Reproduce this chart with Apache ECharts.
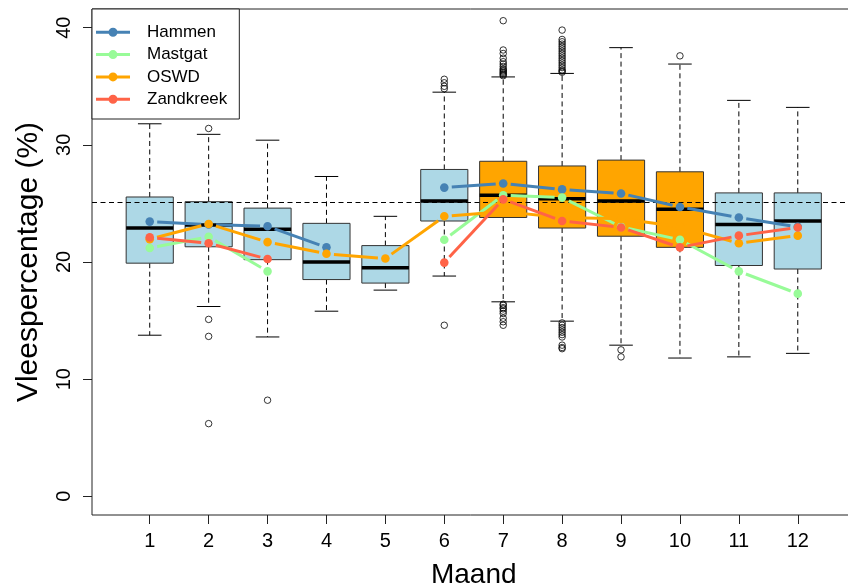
<!DOCTYPE html>
<html>
<head>
<meta charset="utf-8">
<script src="https://cdn.jsdelivr.net/npm/echarts@6/dist/echarts.min.js"></script>
<style>
  html, body { margin: 0; padding: 0; background: #fff; }
  #chart { width: 848px; height: 586px; }
</style>
</head>
<body>
<div id="chart"></div>
<script>
// months on the x axis
const months = [1, 2, 3, 4, 5, 6, 7, 8, 9, 10, 11, 12];
const yTicks = [0, 10, 20, 30, 40];

// boxplot statistics per month
const boxMin    = [13.75, 16.2, 13.6, 15.8, 17.6, 18.8, 16.6, 14.95, 12.9, 11.8, 11.9, 12.2];
const boxQ1     = [19.9, 21.3, 20.2, 18.5, 18.2, 23.5, 23.8, 22.9, 22.2, 21.25, 19.7, 19.4];
const boxMedian = [22.9, 23.15, 22.8, 20.0, 19.5, 25.2, 25.7, 25.4, 25.2, 24.5, 23.2, 23.5];
const boxQ3     = [25.55, 25.15, 24.6, 23.3, 21.4, 27.9, 28.6, 28.2, 28.7, 27.7, 25.9, 25.9];
const boxMax    = [31.8, 30.9, 30.4, 27.3, 23.9, 34.5, 35.8, 36.1, 38.3, 36.9, 33.8, 33.2];

// outliers: [month, value]
const outliers = [
  [2, 31.4], [2, 15.1], [2, 13.65], [2, 6.2],
  [3, 8.2],
  [6, 14.6], [6, 34.8], [6, 35.0], [6, 35.3], [6, 35.6],
  [7, 35.9], [7, 36.0], [7, 36.1], [7, 36.2], [7, 36.3], [7, 36.4], [7, 36.5], [7, 36.7],
  [7, 36.9], [7, 37.1], [7, 37.4], [7, 37.8], [7, 38.1], [7, 40.6],
  [7, 16.4], [7, 16.3], [7, 16.1], [7, 16.0], [7, 15.8], [7, 15.6], [7, 15.2], [7, 14.9], [7, 14.6],
  [8, 36.2], [8, 36.3], [8, 36.4], [8, 36.6], [8, 36.8], [8, 37.0], [8, 37.2], [8, 37.4], [8, 37.6],
  [8, 37.8], [8, 38.0], [8, 38.2], [8, 38.4], [8, 38.6], [8, 38.8], [8, 39.0], [8, 39.8],
  [8, 14.8], [8, 14.6], [8, 14.4], [8, 14.2], [8, 14.0], [8, 13.8], [8, 13.6], [8, 12.9], [8, 12.7], [8, 12.6],
  [9, 12.5], [9, 11.9],
  [10, 37.6]
];

// mean per location (null = no data)
const hammen    = [23.45, 23.2, 23.05, 21.25, null, 26.35, 26.7, 26.2, 25.85, 24.7, 23.8, 23.0];
const mastgat   = [21.2, 22.15, 19.2, null, null, 21.9, 25.7, 25.5, 23.0, 21.9, 19.2, 17.3];
const oswd      = [21.95, 23.25, 21.7, 20.7, 20.3, 23.9, 24.3, 23.8, 23.7, 23.0, 21.6, 22.25];
const zandkreek = [22.1, 21.6, 20.25, null, null, 19.95, 25.35, 23.5, 22.95, 21.25, 22.25, 22.95];

const referenceLine = 25.1;

// styling
const FONT = 'Liberation Sans, Arial, sans-serif';
const orangeMonths = [7, 8, 9, 10];
const BOX_HALF = 0.4;
const STAPLE_HALF = 0.2;
const POINT_R = 4.3;
const GAP = 7.5;
const legendIcon = 'path://M0,3H34V6H0Z M21.5,4.5A4.5,4.5,0,1,1,12.5,4.5A4.5,4.5,0,1,1,21.5,4.5Z';

const chart = echarts.init(document.getElementById('chart'));

function renderBox(params, api) {
  const m = api.value(0);
  const fill = orangeMonths.includes(m) ? '#FFA500' : '#ADD8E6';
  const pMin = api.coord([m, api.value(1)]);
  const pQ1 = api.coord([m, api.value(2)]);
  const pQ3 = api.coord([m, api.value(4)]);
  const pMax = api.coord([m, api.value(5)]);
  const tl = api.coord([m - BOX_HALF, api.value(4)]);
  const br = api.coord([m + BOX_HALF, api.value(2)]);
  const medL = api.coord([m - BOX_HALF, api.value(3)]);
  const medR = api.coord([m + BOX_HALF, api.value(3)]);
  const capL = api.coord([m - STAPLE_HALF, 0])[0];
  const capR = api.coord([m + STAPLE_HALF, 0])[0];
  const dashed = { stroke: '#000', lineWidth: 1, lineDash: [5, 3.5] };
  const solid = { stroke: '#000', lineWidth: 1 };
  return {
    type: 'group',
    children: [
      { type: 'line', shape: { x1: pQ3[0], y1: pQ3[1], x2: pMax[0], y2: pMax[1] }, style: dashed },
      { type: 'line', shape: { x1: pQ1[0], y1: pQ1[1], x2: pMin[0], y2: pMin[1] }, style: dashed },
      { type: 'line', shape: { x1: capL, y1: pMax[1], x2: capR, y2: pMax[1] }, style: solid },
      { type: 'line', shape: { x1: capL, y1: pMin[1], x2: capR, y2: pMin[1] }, style: solid },
      { type: 'rect', shape: { x: tl[0], y: tl[1], width: br[0] - tl[0], height: br[1] - tl[1] },
        style: { fill: fill, stroke: '#333', lineWidth: 1 } },
      { type: 'line', shape: { x1: medL[0], y1: medL[1], x2: medR[0], y2: medR[1] },
        style: { stroke: '#000', lineWidth: 3.5 } }
    ]
  };
}

function renderPoint(params, api) {
  const color = api.visual('color');
  const p = api.coord([api.value(0), api.value(1)]);
  const children = [];
  const pm = api.value(2), pv = api.value(3);
  if (!isNaN(pm) && !isNaN(pv)) {
    const q = api.coord([pm, pv]);
    const dx = p[0] - q[0], dy = p[1] - q[1];
    const len = Math.sqrt(dx * dx + dy * dy);
    const ux = dx / len, uy = dy / len;
    children.push({
      type: 'line',
      shape: { x1: q[0] + ux * GAP, y1: q[1] + uy * GAP, x2: p[0] - ux * GAP, y2: p[1] - uy * GAP },
      style: { stroke: color, lineWidth: 3 }
    });
  }
  children.push({ type: 'circle', shape: { cx: p[0], cy: p[1], r: POINT_R }, style: { fill: color } });
  return { type: 'group', children: children };
}

function groupData(values) {
  const out = [];
  values.forEach((v, i) => {
    if (v == null) return;
    const hasPrev = i > 0 && values[i - 1] != null;
    out.push([months[i], v, hasPrev ? months[i - 1] : NaN, hasPrev ? values[i - 1] : NaN]);
  });
  return out;
}

function groupSeries(name, values, color) {
  return {
    name: name,
    type: 'custom',
    renderItem: renderPoint,
    itemStyle: { color: color },
    encode: { x: 0, y: 1 },
    data: groupData(values),
    z: 6,
    silent: true
  };
}

const boxData = months.map((m, i) => [m, boxMin[i], boxQ1[i], boxMedian[i], boxQ3[i], boxMax[i]]);

const option = {
  animation: false,
  textStyle: { fontFamily: FONT },
  grid: {
    left: 92, top: 9, width: 763.5, height: 506,
    outerBoundsMode: 'none',
    containLabel: false,
    show: true, borderColor: '#222', borderWidth: 1, backgroundColor: 'transparent'
  },
  legend: {
    orient: 'vertical',
    left: 92, top: 9,
    padding: [14.3, 12, 10.8, 4],
    itemGap: 4.3,
    itemWidth: 34, itemHeight: 9,
    selectedMode: false,
    backgroundColor: '#fff',
    borderColor: '#222', borderWidth: 1, borderRadius: 0,
    textStyle: { fontSize: 17, fontFamily: FONT, color: '#000', lineHeight: 18, padding: [0, 0, 0, 12] },
    data: ['Hammen', 'Mastgat', 'OSWD', 'Zandkreek'].map(n => ({ name: n, icon: legendIcon }))
  },
  xAxis: {
    type: 'value',
    min: 0.02, max: 12.98,
    name: 'Maand', nameLocation: 'middle', nameGap: 46,
    nameTextStyle: { fontSize: 28, fontFamily: FONT, color: '#000' },
    axisLine: { show: false, onZero: false },
    axisTick: { show: true, length: 9, customValues: months, lineStyle: { color: '#222' } },
    axisLabel: { customValues: months, fontSize: 20, color: '#000', margin: 16, fontFamily: FONT },
    splitLine: { show: false }
  },
  yAxis: {
    type: 'value',
    min: -1.6, max: 41.6,
    name: 'Vleespercentage (%)', nameLocation: 'middle', nameGap: 48, nameRotate: 90,
    nameTextStyle: { fontSize: 30, fontFamily: FONT, color: '#000' },
    axisLine: { show: false, onZero: false },
    axisTick: { show: true, length: 9, customValues: yTicks, lineStyle: { color: '#222' } },
    axisLabel: { customValues: yTicks, fontSize: 20, color: '#000', margin: 18, rotate: 90, fontFamily: FONT },
    splitLine: { show: false }
  },
  series: [
    {
      type: 'custom',
      renderItem: renderBox,
      encode: { x: 0, y: [1, 2, 3, 4, 5] },
      data: boxData,
      z: 2,
      silent: true,
      markLine: {
        silent: true,
        symbol: 'none',
        label: { show: false },
        lineStyle: { color: '#000', width: 1, type: [5, 3.5] },
        data: [{ yAxis: referenceLine }]
      }
    },
    {
      type: 'scatter',
      data: outliers,
      symbol: 'circle',
      symbolSize: 6.5,
      itemStyle: { color: 'rgba(0,0,0,0)', borderColor: '#000', borderWidth: 1 },
      z: 6,
      silent: true
    },
    groupSeries('Hammen', hammen, '#4682B4'),
    groupSeries('Mastgat', mastgat, '#98FB98'),
    groupSeries('OSWD', oswd, '#FFA500'),
    groupSeries('Zandkreek', zandkreek, '#FF6347')
  ]
};

chart.setOption(option);
</script>
</body>
</html>
